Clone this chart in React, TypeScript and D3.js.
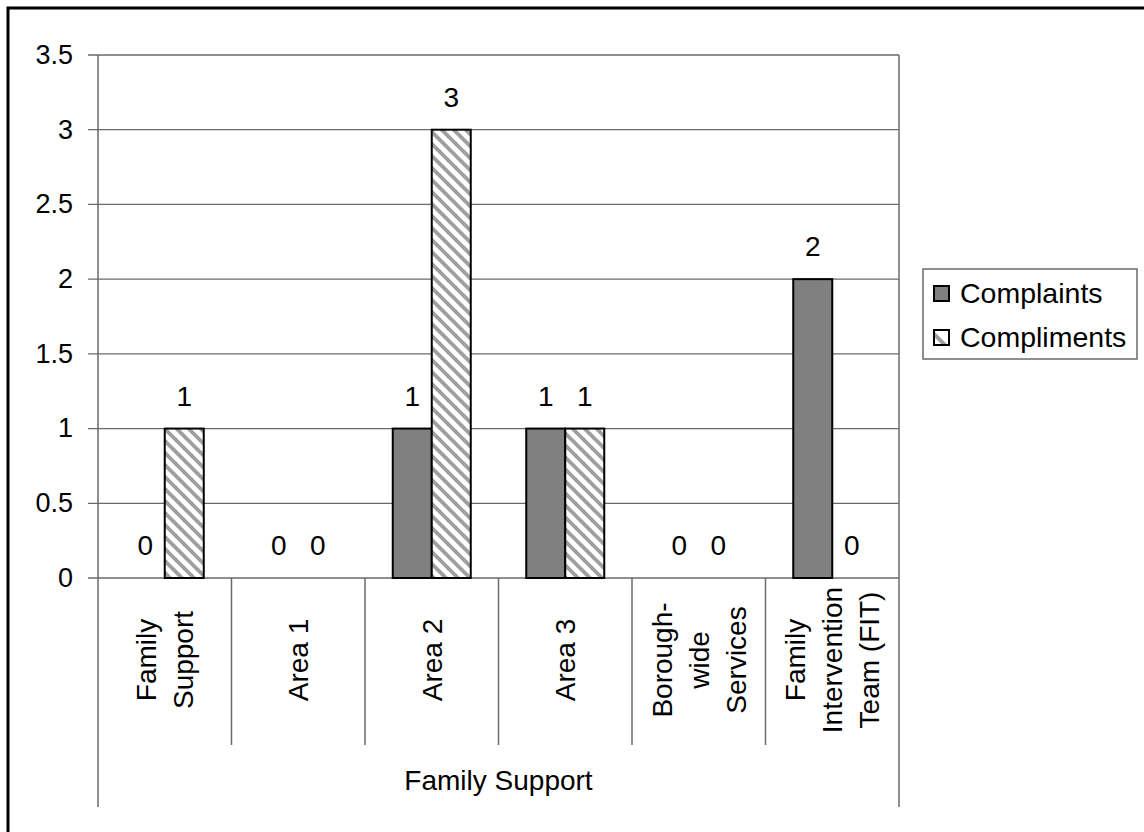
import React from "react";
import * as d3 from "d3";

const categories: string[][] = [
  ["Family", "Support"],
  ["Area 1"],
  ["Area 2"],
  ["Area 3"],
  ["Borough-", "wide", "Services"],
  ["Family", "Intervention", "Team (FIT)"],
];
const groupLabel = "Family Support";
const seriesNames = ["Complaints", "Compliments"];
const complaints = [0, 0, 1, 1, 0, 2];
const compliments = [1, 0, 3, 1, 0, 0];
const yTicks = [0, 0.5, 1, 1.5, 2, 2.5, 3, 3.5];

const W = 1144;
const H = 832;
const left = 98;
const right = 899;
const top = 55;
const bottom = 578;
const FONT = "Liberation Sans, Arial, sans-serif";
const GRID = "#6a6a6a";

export default function App() {
  const idx = categories.map((_, i) => i);
  const x = d3.scaleBand<number>().domain(idx).range([left, right]).paddingInner(0).paddingOuter(0);
  const y = d3.scaleLinear().domain([0, 3.5]).range([bottom, top]);
  const barW = 39;
  const series = [complaints, compliments];
  const fmt = d3.format("");

  return (
    <svg
      width={W}
      height={H}
      style={{ position: "absolute", left: 0, top: 0, background: "#fff" }}
      fontFamily={FONT}
    >
      <defs>
        <pattern id="hatch" patternUnits="userSpaceOnUse" width="12" height="12">
          <rect width="12" height="12" fill="#fff" />
          <path d="M-3,-3 L15,15 M-3,9 L3,15 M9,-3 L15,3" stroke="#a0a0a0" strokeWidth="3.8" />
        </pattern>
        <pattern id="hatchLegend" patternUnits="userSpaceOnUse" width="30" height="30">
          <rect width="30" height="30" fill="#fff" />
          <path d="M-5,-5 L35,35" stroke="#a0a0a0" strokeWidth="4" />
        </pattern>
      </defs>
      <rect x={0} y={0} width={W} height={H} fill="#fff" />
      {/* outer border (clipped on right/bottom) */}
      <rect x={8} y={8} width={W + 20} height={H + 20} fill="none" stroke="#000" strokeWidth={3} />

      {/* gridlines and ticks */}
      {yTicks.map((t) => (
        <g key={t}>
          <line x1={88} x2={right} y1={y(t)} y2={y(t)} stroke={GRID} strokeWidth={1.3} />
          <text x={73} y={y(t)} dy="0.33em" textAnchor="end" fontSize={27} fill="#000">
            {fmt(t)}
          </text>
        </g>
      ))}
      {/* y axis */}
      <line x1={left} x2={left} y1={top} y2={bottom} stroke={GRID} strokeWidth={1.5} />

      {/* category separators */}
      {idx.map((i) => (
        <line
          key={"sep" + i}
          x1={x(i)!}
          x2={x(i)!}
          y1={bottom}
          y2={i === 0 ? 807 : 745}
          stroke={GRID}
          strokeWidth={1.5}
        />
      ))}
      <line x1={right} x2={right} y1={top} y2={807} stroke={GRID} strokeWidth={1.5} />

      {/* bars */}
      {series.map((vals, s) =>
        vals.map((v, i) => {
          const cx = x(i)! + x.bandwidth() / 2;
          const bx = cx - barW + s * barW;
          const h = bottom - y(v);
          return (
            <g key={s + "-" + i}>
              {v > 0 && (
                <rect
                  x={bx}
                  y={y(v)}
                  width={barW}
                  height={h}
                  fill={s === 0 ? "#808080" : "url(#hatch)"}
                  stroke="#000"
                  strokeWidth={2}
                />
              )}
              <text x={bx + barW / 2} y={y(v) - 23} textAnchor="middle" fontSize={28} fill="#000">
                {fmt(v)}
              </text>
            </g>
          );
        })
      )}

      {/* category labels */}
      {categories.map((lines, i) => {
        const cx = x(i)! + x.bandwidth() / 2;
        const cy = 660;
        const n = lines.length;
        return (
          <text
            key={"cat" + i}
            transform={`translate(${cx},${cy}) rotate(-90)`}
            textAnchor="middle"
            fontSize={28}
            fill="#000"
          >
            {lines.map((ln, j) => (
              <tspan key={j} x={0} y={(j - (n - 1) / 2) * 37 + 10}>
                {ln}
              </tspan>
            ))}
          </text>
        );
      })}

      <text x={(left + right) / 2} y={790} textAnchor="middle" fontSize={28} fill="#000">
        {groupLabel}
      </text>

      {/* legend */}
      <rect x={923} y={269} width={214} height={90} fill="#fff" stroke={GRID} strokeWidth={1.5} />
      {seriesNames.map((name, s) => {
        const cy = 293 + s * 44;
        return (
          <g key={name}>
            <rect
              x={934}
              y={cy - 7}
              width={15}
              height={15}
              fill={s === 0 ? "#808080" : "url(#hatchLegend)"}
              stroke="#000"
              strokeWidth={2}
            />
            <text x={960} y={cy} dy="0.35em" fontSize={28.5} fill="#000">
              {name}
            </text>
          </g>
        );
      })}
    </svg>
  );
}
